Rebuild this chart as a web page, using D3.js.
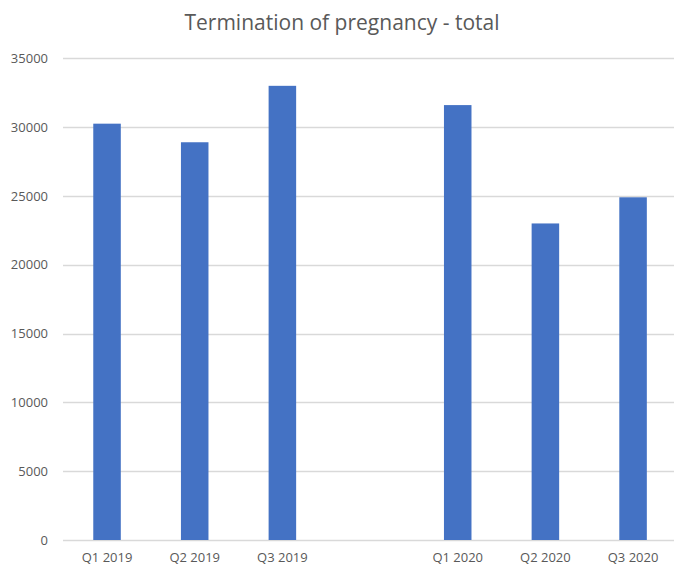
<!DOCTYPE html>
<html>
<head>
<meta charset="utf-8">
<script src="https://cdn.jsdelivr.net/npm/d3@7/dist/d3.min.js"></script>
<style>
  html, body { margin: 0; padding: 0; background: #ffffff; }
  svg { display: block; }
  text { font-family: "Open Sans", "Noto Sans", sans-serif; fill: #595959; }
</style>
</head>
<body>
<svg id="chart" width="674" height="568"></svg>
<script>
// Quarterly totals; the empty slot separates the two years
const categories = ["Q1 2019", "Q2 2019", "Q3 2019", "", "Q1 2020", "Q2 2020", "Q3 2020"];
const values = [30250, 28900, 33000, null, 31600, 23000, 24900];
const yTicks = [0, 5000, 10000, 15000, 20000, 25000, 30000, 35000];
const title = "Termination of pregnancy - total";

const width = 674, height = 568;
const svg = d3.select("#chart");

const x = d3.scaleBand()
  .domain(categories)
  .range([63.2, 676.9])
  .paddingInner(0.686)
  .paddingOuter(0.343);

const y = d3.scaleLinear()
  .domain([0, 35000])
  .range([540, 58.3]);

// Horizontal gridlines (the zero line included)
svg.append("g")
  .selectAll("line")
  .data(yTicks)
  .join("line")
  .attr("x1", 63)
  .attr("x2", width)
  .attr("y1", d => Math.round(y(d)) + 0.5)
  .attr("y2", d => Math.round(y(d)) + 0.5)
  .attr("stroke", "#d9d9d9")
  .attr("stroke-width", 1.4);

// Y axis labels
const yAxis = d3.axisLeft(y).tickValues(yTicks).tickSize(0).tickPadding(0).tickFormat(d3.format("d"));
svg.append("g")
  .attr("transform", "translate(48,0)")
  .call(yAxis)
  .call(g => g.select(".domain").remove())
  .call(g => g.selectAll("text")
    .attr("font-size", 13)
    .attr("fill", "#595959")
    .style("font-family", "'Open Sans', sans-serif"));

// Bars
const rows = categories.map((c, i) => ({ cat: c, value: values[i] })).filter(d => d.value != null);
svg.append("g")
  .selectAll("rect")
  .data(rows)
  .join("rect")
  .attr("x", d => x(d.cat))
  .attr("width", x.bandwidth())
  .attr("y", d => y(d.value))
  .attr("height", d => y(0) - y(d.value))
  .attr("fill", "#4472c4");

// X axis labels
const xAxis = d3.axisBottom(x).tickSize(0).tickPadding(0);
svg.append("g")
  .attr("transform", "translate(0,553)")
  .call(xAxis)
  .call(g => g.select(".domain").remove())
  .call(g => g.selectAll("text")
    .attr("font-size", 13)
    .attr("fill", "#595959")
    .style("font-family", "'Open Sans', sans-serif"));

// Title
svg.append("text")
  .attr("x", 342)
  .attr("y", 30)
  .attr("text-anchor", "middle")
  .attr("font-size", 21)
  .text(title);
</script>
</body>
</html>
